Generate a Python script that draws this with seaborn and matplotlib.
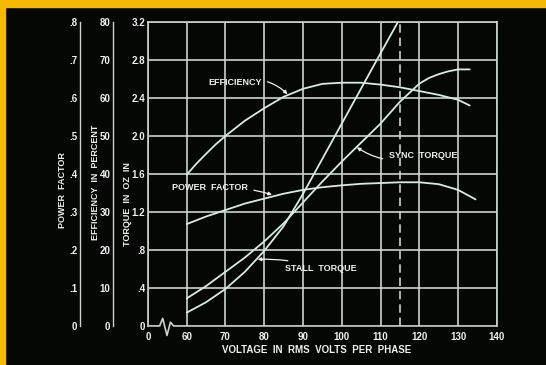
import matplotlib
matplotlib.use("Agg")
import matplotlib.pyplot as plt
import seaborn as sns
from matplotlib.patches import Rectangle

# values (volts rms per phase)
eff_volts = [60, 62.5, 65, 67.5, 70, 75, 80, 85, 90, 95, 100, 105, 110, 115, 120, 125, 130, 133]
eff_pct = [39.8, 42.7, 45.3, 47.8, 50.0, 54.0, 57.3, 60.3, 62.4, 63.7, 64.0, 64.0, 63.5, 62.8, 61.8, 60.8, 59.5, 58.0]

pf_volts = [60, 65, 70, 75, 80, 85, 90, 95, 100, 105, 110, 115, 120, 125, 130, 134.5]
power_factor = [.268, .288, .305, .322, .335, .348, .358, .365, .370, .374, .376, .378, .378, .373, .358, .333]

sync_volts = [60, 65, 70, 75, 80, 85, 90, 95, 100, 105, 110, 115, 120, 122.5, 125, 127.5, 130, 133]
sync_torque = [0.29, 0.42, 0.57, 0.72, 0.89, 1.08, 1.30, 1.52, 1.73, 1.93, 2.13, 2.36, 2.55, 2.61, 2.65, 2.68, 2.70, 2.70]

stall_volts = [60, 65, 70, 75, 80, 85, 90, 95, 100, 105, 110, 114.5]
stall_torque = [0.14, 0.25, 0.39, 0.57, 0.79, 1.05, 1.39, 1.76, 2.13, 2.50, 2.87, 3.20]

sync_speed_volts = 115

x_ticks = [50, 60, 70, 80, 90, 100, 110, 120, 130, 140]
x_labels = ["0", "60", "70", "80", "90", "100", "110", "120", "130", "140"]
torque_ticks = [0, 0.4, 0.8, 1.2, 1.6, 2.0, 2.4, 2.8, 3.2]
torque_labels = ["0", ".4", ".8", "1.2", "1.6", "2.0", "2.4", "2.8", "3.2"]
eff_ticks = [0, 10, 20, 30, 40, 50, 60, 70, 80]
pf_ticks = [0, .1, .2, .3, .4, .5, .6, .7, .8]
pf_labels = ["0", ".1", ".2", ".3", ".4", ".5", ".6", ".7", ".8"]

# zig-zag axis break between 0 and 60
break_x = [50, 53.0, 53.8, 54.9, 55.8, 56.6, 140]
break_y = [0, 0, 0.08, -0.1, 0.04, 0, 0]

BG = "#050705"
INK = "#eef2ee"
GRID = "#c9d4cc"
CURVE = "#d6ebe4"
YELLOW = "#f4b800"

sns.set_style("dark", rc={"axes.facecolor": BG, "figure.facecolor": BG})
plt.rcParams["font.family"] = ["Liberation Sans", "DejaVu Sans"]
plt.rcParams["font.weight"] = "bold"

fig = plt.figure(figsize=(5.46, 3.65), dpi=100, facecolor=BG)
ax = fig.add_axes([0.271, 0.107, 0.639, 0.833])

# yellow page edge
fig.patches.append(Rectangle((0, 1 - 7 / 365), 1, 7 / 365, transform=fig.transFigure,
                             color=YELLOW, zorder=0))
fig.patches.append(Rectangle((0, 0), 5 / 546, 1, transform=fig.transFigure,
                             color=YELLOW, zorder=0))

ax.set_xlim(50, 140)
ax.set_ylim(0, 3.2)
ax.set_xticks(x_ticks)
ax.set_xticklabels(x_labels)
ax.set_yticks(torque_ticks)
ax.set_yticklabels(torque_labels)
ax.grid(True, color=GRID, lw=1.2)
ax.get_ygridlines()[0].set_visible(False)
for s in ["left", "right", "top"]:
    ax.spines[s].set_visible(True)
    ax.spines[s].set_color(GRID)
    ax.spines[s].set_linewidth(1.2)
ax.spines["bottom"].set_visible(False)
ax.plot(break_x, break_y, color=GRID, lw=1.2, clip_on=False, zorder=3)
ax.axvline(sync_speed_volts, color=GRID, lw=1.2, ls=(0, (5, 3)))
ax.tick_params(axis="both", length=0, colors=INK, labelsize=7, pad=2)
ax.tick_params(axis="x", pad=4)

sns.lineplot(x=sync_volts, y=sync_torque, ax=ax, color=CURVE, lw=1.3)
sns.lineplot(x=stall_volts, y=stall_torque, ax=ax, color=CURVE, lw=1.3)

# efficiency and power factor scales stacked on the left
ax_eff = ax.twinx()
ax_pf = ax.twinx()
for tw, pos, lim, ticks in [(ax_eff, -0.100, (0, 80), eff_ticks), (ax_pf, -0.195, (0, 0.8), pf_ticks)]:
    tw.set_ylim(*lim)
    tw.yaxis.tick_left()
    tw.set_yticks(ticks)
    tw.grid(False)
    for s in ["right", "top", "bottom"]:
        tw.spines[s].set_visible(False)
    tw.spines["left"].set_visible(True)
    tw.spines["left"].set_position(("axes", pos))
    tw.spines["left"].set_color(GRID)
    tw.spines["left"].set_linewidth(1.0)
    tw.tick_params(axis="y", length=0, colors=INK, labelsize=7, pad=2)
ax_pf.set_yticklabels(pf_labels)

sns.lineplot(x=eff_volts, y=eff_pct, ax=ax_eff, color=CURVE, lw=1.3)
sns.lineplot(x=pf_volts, y=power_factor, ax=ax_pf, color=CURVE, lw=1.3)

arrow = dict(arrowstyle="-|>", color=INK, lw=0.9, mutation_scale=5, shrinkA=2, shrinkB=0)
ax_eff.annotate("EFFICIENCY", xy=(86, 61), xytext=(72.4, 64), ha="center", va="center",
                fontsize=6.5, color=INK,
                arrowprops=dict(arrow, connectionstyle="arc3,rad=-0.3"))
ax_pf.annotate("POWER  FACTOR", xy=(82, 0.345), xytext=(66, 0.363), ha="center", va="center",
               fontsize=6.5, color=INK,
               arrowprops=dict(arrow, connectionstyle="arc3,rad=-0.1"))
ax.annotate("STALL  TORQUE", xy=(78.3, 0.70), xytext=(94.6, 0.60), ha="center", va="center",
            fontsize=6.5, color=INK,
            arrowprops=dict(arrow, connectionstyle="arc3,rad=0.1"))
ax.annotate("SYNC  TORQUE", xy=(103.9, 1.88), xytext=(120.9, 1.79), ha="center", va="center",
            fontsize=6.5, color=INK,
            arrowprops=dict(arrow, connectionstyle="arc3,rad=-0.25"))

fig.text(0.1136, 0.479, "POWER  FACTOR", rotation=90, ha="center", va="center",
         fontsize=6.5, color=INK)
fig.text(0.174, 0.501, "EFFICIENCY  IN  PERCENT", rotation=90, ha="center", va="center",
         fontsize=6.5, color=INK)
fig.text(0.234, 0.441, "TORQUE  IN  OZ  IN", rotation=90, ha="center", va="center",
         fontsize=6.5, color=INK)
fig.text(0.579, 0.041, "VOLTAGE  IN  RMS  VOLTS  PER  PHASE", ha="center", va="center",
         fontsize=7, color=INK)

fig.savefig("out.png", dpi=100, facecolor=BG)
